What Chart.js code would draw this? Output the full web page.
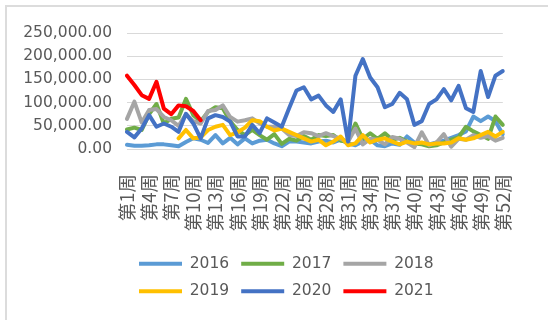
<!DOCTYPE html>
<html>
<head>
<meta charset="utf-8">
<script src="https://cdn.jsdelivr.net/npm/chart.js@4"></script>
<style>
  body { margin: 0; background: #fff; }
  #wrap { position: relative; width: 550px; height: 328px; }
  #frame {
    position: absolute; left: 5px; top: 5px; width: 541px; height: 313px;
    border-top: 2px solid #dcdcdc; border-left: 2px solid #dcdcdc;
  }
  #chart { position: absolute; left: 0; top: 0; }
</style>
</head>
<body>
<div id="wrap">
  <div id="frame"></div>
  <canvas id="chart" width="550" height="328"></canvas>
</div>
<script>
// weeks 1..52
var weeks = Array.from({ length: 52 }, (_, i) => '第' + (i + 1) + '周');

var years = ['2016', '2017', '2018', '2019', '2020', '2021'];
var colors = ['#5B9BD5', '#70AD47', '#A5A5A5', '#FFC000', '#4472C4', '#FF0000'];

var s2016 = [9000, 7000, 7000, 8000, 10000, 10000, 8000, 6000, 15000, 23000,
  20000, 13000, 30000, 12000, 24000, 10000, 23000, 12000, 18000, 20000,
  12000, 6000, 16000, 16000, 14000, 12000, 16000, 18000, 14000, 20000,
  12000, 8000, 16000, 20000, 8000, 6000, 12000, 9000, 27000, 14000,
  12000, 10000, 14000, 18000, 24000, 30000, 38000, 70000, 60000, 70000,
  60000, 32000];
var s2017 = [42000, 46000, 41000, 75000, 97000, 55000, 65000, 68000, 108000, 73000,
  60000, 80000, 90000, 88000, 60000, 41000, 30000, 41000, 30000, 20000,
  32000, 11000, 22000, 18000, 28000, 20000, 30000, 28000, 30000, 18000,
  16000, 55000, 22000, 34000, 22000, 34000, 20000, 24000, 16000, 12000,
  10000, 6000, 8000, 14000, 20000, 25000, 48000, 38000, 30000, 22000,
  70000, 52000];
var s2018 = [65000, 102000, 57000, 84000, 86000, 69000, 62000, 50000, 75000, 60000,
  55000, 82000, 84000, 94000, 69000, 59000, 62000, 66000, 55000, 48000,
  48000, 44000, 30000, 28000, 36000, 34000, 28000, 34000, 28000, 22000,
  16000, 44000, 10000, 22000, 20000, 10000, 26000, 22000, 14000, 4000,
  36000, 8000, 14000, 32000, 5000, 22000, 20000, 30000, 24000, 28000,
  18000, 24000];
var s2019 = [null, null, null, null, null, null, null, 23000, 41000, 23000,
  25000, 41000, 48000, 52000, 30000, 36000, 46000, 62000, 60000, 48000,
  40000, 44000, 37000, 30000, 23000, 16000, 20000, 8000, 16000, 27000,
  8000, 12000, 30000, 14000, 20000, 23000, 16000, 10000, 16000, 12000,
  14000, 10000, 12000, 12000, 14000, 23000, 20000, 23000, 30000, 37000,
  27000, 37000];
var s2020 = [37000, 25000, 44000, 73000, 48000, 55000, 48000, 37000, 76000, 55000,
  23000, 66000, 73000, 69000, 59000, 27000, 27000, 52000, 34000, 66000,
  57000, 48000, 88000, 126000, 133000, 107000, 115000, 94000, 80000, 107000,
  16000, 158000, 194000, 154000, 133000, 90000, 97000, 121000, 107000, 52000,
  60000, 97000, 107000, 129000, 105000, 136000, 88000, 80000, 168000, 112000,
  158000, 168000];
var s2021 = [158000, 138000, 116000, 108000, 145000, 87000, 75000, 94000, 92000, 82000,
  62000];

var series = [s2016, s2017, s2018, s2019, s2020, s2021];

var textColor = '#595959';
var gridColor = '#d9d9d9';

var datasets = series.map(function (values, i) {
    return {
        label: years[i],
        data: values,
        borderColor: colors[i],
        backgroundColor: colors[i],
        borderWidth: 4,
        borderCapStyle: 'round',
        borderJoinStyle: 'round',
        pointRadius: 0,
        tension: 0,
        fill: false,
        order: series.length - i   // later years drawn on top
    };
});

new Chart(document.getElementById('chart').getContext('2d'), {
    type: 'line',
    data: { labels: weeks, datasets: datasets },
    options: {
        responsive: false,
        animation: false,
        layout: { padding: { top: 33, right: 29, bottom: 19, left: 0 } },
        plugins: {
            tooltip: { enabled: false },
            legend: {
                position: 'bottom',
                fullSize: false,
                align: 'start',
                labels: {
                    usePointStyle: true,
                    pointStyle: 'line',
                    pointStyleWidth: 43,
                    padding: 12,
                    color: textColor,
                    font: { family: 'DejaVu Sans', size: 15.5 },
                    sort: function (a, b) { return a.datasetIndex - b.datasetIndex; }
                }
            }
        },
        scales: {
            x: {
                offset: false,
                grid: { display: false, drawTicks: false },
                border: { display: false },
                afterFit: function (axis) { axis.height = 95; },
                ticks: {
                    autoSkip: false,
                    minRotation: 90,
                    maxRotation: 90,
                    padding: 25,
                    color: textColor,
                    font: { family: 'Noto Sans CJK SC', size: 18.5 },
                    callback: function (value, index) {
                        return index % 3 === 0 ? weeks[index] : '';
                    }
                }
            },
            y: {
                min: 0,
                max: 250000,
                grid: { color: gridColor, lineWidth: 1, drawTicks: false },
                border: { display: false },
                afterFit: function (axis) { axis.width = 127; },
                ticks: {
                    stepSize: 50000,
                    padding: 15,
                    color: textColor,
                    font: { family: 'DejaVu Sans', size: 15.5 },
                    callback: function (value) {
                        return value.toLocaleString('en-US', { minimumFractionDigits: 2, maximumFractionDigits: 2 });
                    }
                }
            }
        }
    }
});
</script>
</body>
</html>
